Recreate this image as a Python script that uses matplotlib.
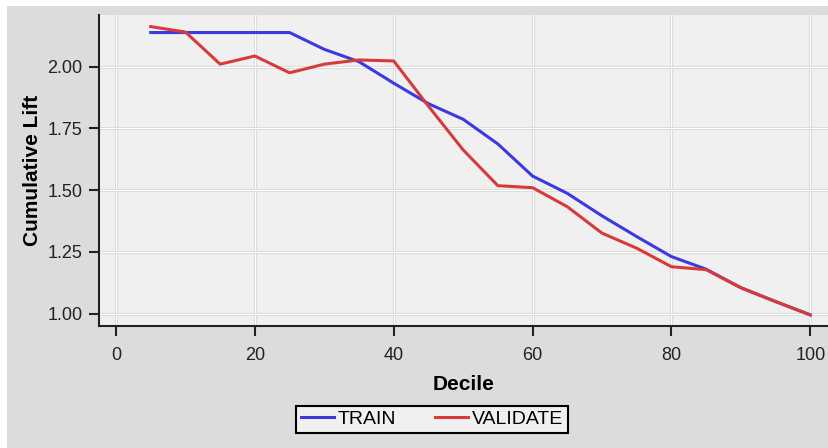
import matplotlib.pyplot as plt
from matplotlib.patches import Rectangle

plt.rcParams['font.family'] = ['Liberation Sans', 'DejaVu Sans']

deciles = [5, 10, 15, 20, 25, 30, 35, 40, 45, 50,
           55, 60, 65, 70, 75, 80, 85, 90, 95, 100]
train = [2.138, 2.138, 2.138, 2.138, 2.138, 2.07, 2.02, 1.933, 1.85, 1.787,
         1.687, 1.557, 1.487, 1.396, 1.312, 1.231, 1.18, 1.105, 1.049, 0.995]
validate = [2.162, 2.14, 2.01, 2.043, 1.975, 2.01, 2.027, 2.023, 1.84, 1.663,
            1.518, 1.51, 1.433, 1.326, 1.265, 1.19, 1.178, 1.105, 1.049, 0.995]
xticks = [0, 20, 40, 60, 80, 100]
yticks = [1.00, 1.25, 1.50, 1.75, 2.00]

fig = plt.figure(figsize=(8.29, 4.48), dpi=100)
fig.patch.set_facecolor("white")
fig.patches.append(Rectangle((7 / 829, 0), 1, 1 - 6 / 448, transform=fig.transFigure,
                             facecolor="#dcdcdc", edgecolor="none", zorder=-10))

ax = fig.add_axes([99 / 829, 1 - 326 / 448, 1 - 99 / 829, (326 - 15) / 448])
ax.set_facecolor("#f0f0f0")

# grid: light grey edge with white centre
for xv in xticks:
    ax.axvline(xv, color="#d8d8d8", lw=2.2, zorder=0)
    ax.axvline(xv, color="white", lw=0.9, zorder=0)
for yv in yticks:
    ax.axhline(yv, color="#d8d8d8", lw=2.2, zorder=0)
    ax.axhline(yv, color="white", lw=0.9, zorder=0)

ax.plot(deciles, train, color="#3a3ae0", lw=2.2, label="TRAIN", zorder=3)
ax.plot(deciles, validate, color="#d83a3a", lw=2.2, label="VALIDATE", zorder=4)

ax.set_xlim(-2.45, 102.7)
ax.set_ylim(0.95, 2.209)
ax.set_xticks(xticks)
ax.set_yticks(yticks)
ax.set_yticklabels(["%.2f" % v for v in yticks])

for side in ["top", "right"]:
    ax.spines[side].set_visible(False)
for side in ["left", "bottom"]:
    ax.spines[side].set_linewidth(1.5)
    ax.spines[side].set_color("#222222")
ax.tick_params(direction="out", length=7, width=1.5, labelsize=13,
               colors="#222222")
ax.tick_params(axis="x", pad=8)
ax.tick_params(axis="y", pad=5)

ax.set_xlabel("Decile", fontsize=15, fontweight="bold", labelpad=8)
ax.set_ylabel("Cumulative Lift", fontsize=15, fontweight="bold", labelpad=4)

leg = fig.legend(loc="center", bbox_to_anchor=(0.521, 0.064), ncol=2,
                 fontsize=14, frameon=True, fancybox=False, handlelength=1.7,
                 handletextpad=0.2, columnspacing=2.0, borderpad=0.25,
                 borderaxespad=0)
leg.get_frame().set_edgecolor("black")
leg.get_frame().set_linewidth(1.5)
leg.get_frame().set_facecolor("#f0f0f0")
leg.get_frame().set_alpha(1)

fig.savefig("out.png", dpi=100, facecolor=fig.get_facecolor())
